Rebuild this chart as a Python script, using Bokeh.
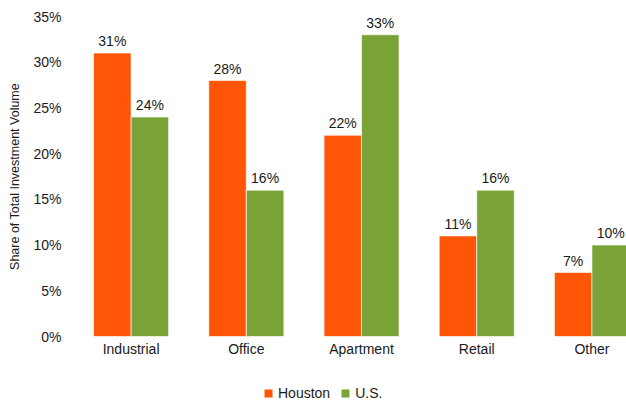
from bokeh.plotting import figure
from bokeh.layouts import column
from bokeh.models import Range1d, FixedTicker, Legend, LegendItem, ColumnDataSource
from bokeh.core.properties import value
from bokeh.embed import file_html
from bokeh.resources import INLINE

categories = ["Industrial", "Office", "Apartment", "Retail", "Other"]
houston = [31, 28, 22, 11, 7]
us = [24, 16, 33, 16, 10]
series_names = ["Houston", "U.S."]
colors = ["#FF5506", "#7BA236"]
y_ticks = [0, 5, 10, 15, 20, 25, 30, 35]

FONT = "Liberation Sans"
TXT = "#1a1a1a"

xs = list(range(len(categories)))
off = 0.163
bw = 0.325

p = figure(width=626, height=382, output_backend="svg", toolbar_location=None,
           x_range=Range1d(-0.5, 4.30), y_range=Range1d(0, 35),
           min_border_left=73, min_border_right=0, min_border_top=16, min_border_bottom=46)
p.outline_line_color = None
p.xgrid.visible = False
p.ygrid.visible = False
p.background_fill_color = "white"

src_h = ColumnDataSource(dict(x=[x - off for x in xs], top=houston,
                              lab=[f"{v}%" for v in houston]))
src_u = ColumnDataSource(dict(x=[x + off for x in xs], top=us,
                              lab=[f"{v}%" for v in us]))

p.vbar(x="x", top="top", width=bw, source=src_h, fill_color=colors[0],
       line_color="white", line_width=0.6)
p.vbar(x="x", top="top", width=bw, source=src_u, fill_color=colors[1],
       line_color="white", line_width=0.6)

for src in (src_h, src_u):
    p.text(x="x", y="top", text="lab", source=src, text_align="center",
           text_baseline="alphabetic", y_offset=-12, text_font=value(FONT),
           text_font_size="14px", text_color=TXT)

# axes
p.yaxis.ticker = FixedTicker(ticks=y_ticks)
p.yaxis.major_label_overrides = {t: f"{t}%" for t in y_ticks}
p.yaxis.axis_line_color = None
p.yaxis.major_tick_line_color = None
p.yaxis.minor_tick_line_color = None
p.yaxis.major_tick_out = 0
p.yaxis.major_label_standoff = 12
p.yaxis.major_label_text_font = FONT
p.yaxis.major_label_text_font_size = "14px"
p.yaxis.major_label_text_color = TXT
p.yaxis.axis_label = "Share of Total Investment Volume"
p.yaxis.axis_label_text_font = FONT
p.yaxis.axis_label_text_font_size = "12.5px"
p.yaxis.axis_label_text_font_style = "normal"
p.yaxis.axis_label_text_color = TXT
p.yaxis.axis_label_standoff = 8

p.xaxis.ticker = FixedTicker(ticks=xs)
p.xaxis.major_label_overrides = {i: c for i, c in enumerate(categories)}
p.xaxis.axis_line_color = None
p.xaxis.major_tick_line_color = None
p.xaxis.minor_tick_line_color = None
p.xaxis.major_tick_out = 0
p.xaxis.major_label_standoff = 4
p.xaxis.major_label_text_font = FONT
p.xaxis.major_label_text_font_size = "14px"
p.xaxis.major_label_text_color = TXT

# legend strip below the chart (its bars lie far outside its view; only the legend shows)
lg = figure(width=626, height=20, output_backend="svg", toolbar_location=None,
            x_range=Range1d(-0.5, 4.30), y_range=Range1d(500, 501),
            x_axis_type=None, y_axis_type=None,
            min_border_left=73, min_border_right=0, min_border_top=0, min_border_bottom=0)
lg.outline_line_color = None
lg.xgrid.visible = False
lg.ygrid.visible = False
lr_h = lg.vbar(x="x", top="top", width=bw, source=src_h, fill_color=colors[0], line_color=None)
lr_u = lg.vbar(x="x", top="top", width=bw, source=src_u, fill_color=colors[1], line_color=None)

legend = Legend(items=[LegendItem(label=series_names[0], renderers=[lr_h]),
                       LegendItem(label=series_names[1], renderers=[lr_u])],
                orientation="horizontal", location=(190, 1),
                glyph_width=10, glyph_height=10, label_standoff=5, spacing=10,
                padding=0, margin=0, border_line_color=None, background_fill_alpha=0,
                label_text_font=FONT, label_text_font_size="14px", label_text_color=TXT,
                label_height=10)
lg.add_layout(legend, "center")

layout = column(p, lg, spacing=0)
open("out.html", "w").write(file_html(layout, INLINE))
